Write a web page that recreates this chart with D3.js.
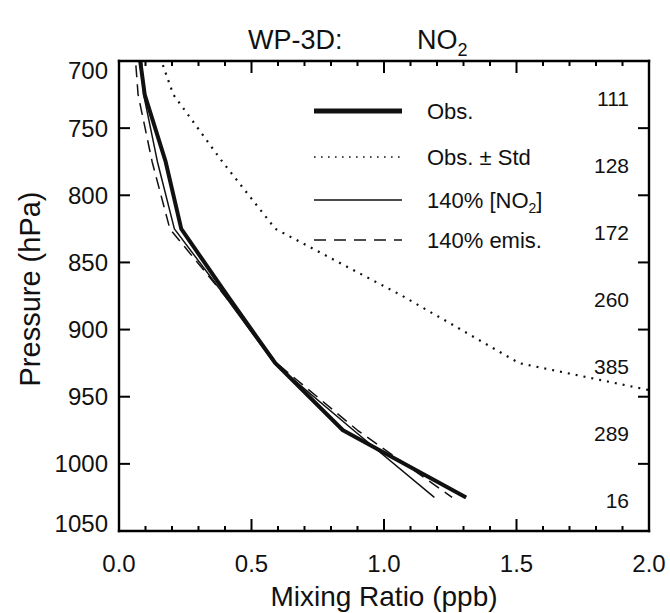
<!DOCTYPE html>
<html>
<head>
<meta charset="utf-8">
<script src="https://cdn.jsdelivr.net/npm/d3@7"></script>
<style>
  body { margin: 0; background: #fff; }
  svg { display: block; }
  text { font-family: "Liberation Sans", Arial, Helvetica, sans-serif; fill: #111; }
</style>
</head>
<body>
<svg width="670" height="613"></svg>
<script>
// pressure levels (hPa), bin centres
const pressure = [675, 725, 775, 825, 875, 925, 975, 1025];
// NO2 mixing ratio (ppb)
const obs        = [0.063, 0.097, 0.176, 0.235, 0.41, 0.59, 0.845, 1.31];
const obsPlusStd = [0.115, 0.205, 0.39, 0.59, 1.07, 1.51, 2.73, 3.2];
const scaledNO2  = [0.077, 0.093, 0.145, 0.209, 0.40, 0.585, 0.885, 1.19];
const scaledEmis = [0.053, 0.072, 0.125, 0.192, 0.40, 0.595, 0.90, 1.257];
// number of samples per bin
const countLevels = [725, 775, 825, 875, 925, 975, 1025];
const counts = [111, 128, 172, 260, 385, 289, 16];
const xTicks = [0.0, 0.5, 1.0, 1.5, 2.0];
const yTicks = [700, 750, 800, 850, 900, 950, 1000, 1050];

const svg = d3.select("svg");
const pLeft = 119, pRight = 649, pTop = 61, pBottom = 531;

const x = d3.scaleLinear().domain([0, 2]).range([pLeft, pRight]);
const y = d3.scaleLinear().domain([700, 1050]).range([pTop, pBottom]);

svg.append("defs").append("clipPath").attr("id", "plotclip")
  .append("rect")
  .attr("x", pLeft).attr("y", pTop)
  .attr("width", pRight - pLeft).attr("height", pBottom - pTop);

const series = [
  {values: obs, width: 4, dash: null},
  {values: obsPlusStd, width: 2.2, dash: "2,6"},
  {values: scaledNO2, width: 1.5, dash: null},
  {values: scaledEmis, width: 1.5, dash: "12,7"}
];

const lineGen = d3.line()
  .x(function(d) { return x(d[0]); })
  .y(function(d) { return y(d[1]); });

const plot = svg.append("g").attr("clip-path", "url(#plotclip)");
series.forEach(function(s) {
  plot.append("path")
    .datum(s.values.map(function(v, i) { return [v, pressure[i]]; }))
    .attr("d", lineGen)
    .attr("fill", "none")
    .attr("stroke", "#111")
    .attr("stroke-width", s.width)
    .attr("stroke-dasharray", s.dash)
    .attr("stroke-linejoin", "round");
});

// axes frame: four sides
const frame = svg.append("g");
[[pLeft, pTop, pRight, pTop], [pLeft, pBottom, pRight, pBottom],
 [pLeft, pTop, pLeft, pBottom], [pRight, pTop, pRight, pBottom]].forEach(function(s) {
  frame.append("line")
    .attr("x1", s[0]).attr("y1", s[1]).attr("x2", s[2]).attr("y2", s[3])
    .style("stroke", "#000").style("stroke-width", "2.4px")
    .style("stroke-linecap", "square");
});

// ticks pointing inward on all four sides
const xMinor = d3.range(0, 21).map(function(i) { return i / 10; });
xMinor.forEach(function(d, i) {
  const len = (i % 5 === 0) ? 12 : 5;
  frame.append("line")
    .attr("x1", x(d)).attr("x2", x(d))
    .attr("y1", pBottom).attr("y2", pBottom - len)
    .style("stroke", "#000").style("stroke-width", "2px");
  frame.append("line")
    .attr("x1", x(d)).attr("x2", x(d))
    .attr("y1", pTop).attr("y2", pTop + len)
    .style("stroke", "#000").style("stroke-width", "2px");
});
yTicks.forEach(function(d) {
  frame.append("line")
    .attr("x1", pLeft).attr("x2", pLeft + 11)
    .attr("y1", y(d)).attr("y2", y(d))
    .style("stroke", "#000").style("stroke-width", "2px");
  frame.append("line")
    .attr("x1", pRight).attr("x2", pRight - 11)
    .attr("y1", y(d)).attr("y2", y(d))
    .style("stroke", "#000").style("stroke-width", "2px");
});

// tick labels
svg.selectAll(".xlab").data(xTicks).enter().append("text")
  .attr("x", function(d) { return x(d); })
  .attr("y", 572)
  .attr("text-anchor", "middle")
  .attr("font-size", 24)
  .text(function(d) { return d.toFixed(1); });

svg.selectAll(".ylab").data(yTicks).enter().append("text")
  .attr("x", 108)
  .attr("y", function(d, i) {
    if (i === 0) return y(d) + 18;
    if (i === yTicks.length - 1) return y(d) + 1;
    return y(d) + 8.5;
  })
  .attr("text-anchor", "end")
  .attr("font-size", 24)
  .text(function(d) { return d; });

// axis titles
svg.append("text")
  .attr("x", (pLeft + pRight) / 2).attr("y", 606)
  .attr("text-anchor", "middle").attr("font-size", 28)
  .text("Mixing Ratio (ppb)");

svg.append("text")
  .attr("transform", "translate(40,289) rotate(-90)")
  .attr("text-anchor", "middle").attr("font-size", 29)
  .text("Pressure (hPa)");

// title
const title = svg.append("text").attr("y", 49).attr("font-size", 27);
title.append("tspan").attr("x", 248).text("WP-3D:");
title.append("tspan").attr("x", 417).text("NO");
title.append("tspan").attr("dy", 7).attr("font-size", 18).text("2");

// sample counts
svg.selectAll(".cnt").data(counts).enter().append("text")
  .attr("x", 629)
  .attr("y", function(d, i) { return y(countLevels[i]) + 11; })
  .attr("text-anchor", "end")
  .attr("font-size", 21)
  .text(function(d) { return d; });

// legend
const legendItems = [
  {label: ["Obs."], width: 5, dash: null},
  {label: ["Obs. \u00b1 Std"], width: 1.6, dash: "1.6,5.4"},
  {label: ["140% [NO", "2", "]"], width: 1.5, dash: null},
  {label: ["140% emis."], width: 1.5, dash: "12,8"}
];
const legendY = [111, 157, 200, 240];
legendItems.forEach(function(d, i) {
  svg.append("line")
    .attr("x1", 314).attr("x2", 402)
    .attr("y1", legendY[i]).attr("y2", legendY[i])
    .attr("stroke", "#111").attr("stroke-width", d.width)
    .attr("stroke-dasharray", d.dash);
  const t = svg.append("text").attr("x", 427).attr("y", legendY[i] + 8)
    .attr("font-size", 22);
  t.append("tspan").text(d.label[0]);
  if (d.label.length > 1) {
    t.append("tspan").attr("dy", 5).attr("font-size", 14).text(d.label[1]);
    t.append("tspan").attr("dy", -5).text(d.label[2]);
  }
});
</script>
</body>
</html>
